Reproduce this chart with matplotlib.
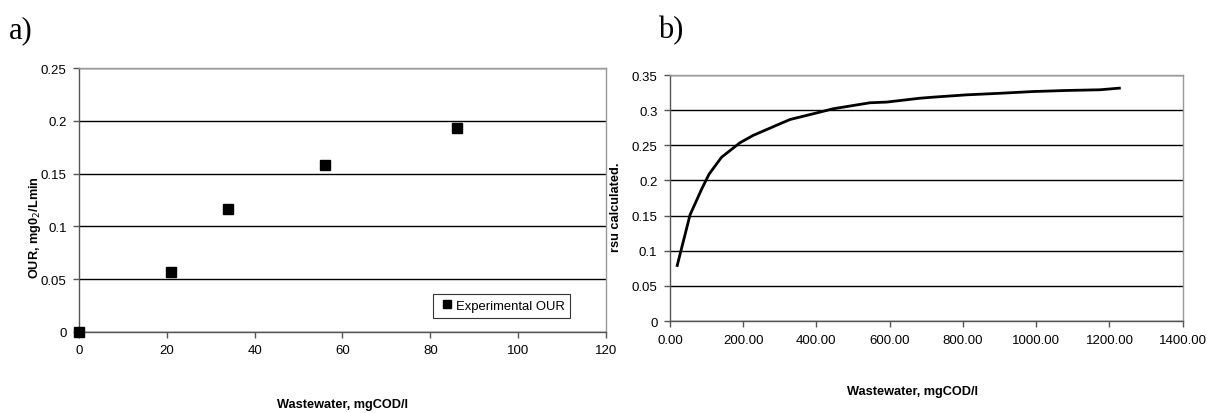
import matplotlib
matplotlib.use('Agg')
import matplotlib.pyplot as plt

# a) experimental oxygen uptake rate
ww_exp = [0, 21, 34, 56, 86]
our_exp = [0.0, 0.057, 0.116, 0.158, 0.193]

# b) calculated rsu curve
ww_calc = [20, 55, 87, 107, 141, 191, 227, 300, 328, 391, 446, 546, 592, 683,
           719, 810, 901, 992, 1083, 1174, 1227]
rsu_calc = [0.079, 0.151, 0.188, 0.209, 0.233, 0.2535, 0.264, 0.2805, 0.2867,
            0.2948, 0.302, 0.3105, 0.3115, 0.317, 0.3185, 0.3218, 0.324,
            0.3265, 0.328, 0.329, 0.3313]

a_xticks = [0, 20, 40, 60, 80, 100, 120]
a_yticks = [0, 0.05, 0.1, 0.15, 0.2, 0.25]
a_ylabels = ['0', '0.05', '0.1', '0.15', '0.2', '0.25']
b_xticks = [0, 200, 400, 600, 800, 1000, 1200, 1400]
b_yticks = [0, 0.05, 0.1, 0.15, 0.2, 0.25, 0.3, 0.35]
b_ylabels = ['0', '0.05', '0.1', '0.15', '0.2', '0.25', '0.3', '0.35']

plt.rcParams['font.family'] = ['Liberation Sans', 'DejaVu Sans']

fig = plt.figure(figsize=(12.07, 4.14), dpi=100)
ax1 = fig.add_axes([0.0655, 0.1957, 0.4365, 0.6376])
ax2 = fig.add_axes([0.555, 0.2222, 0.4249, 0.5942])


def style(ax, xticks, yticks, ylabels):
    ax.set_yticks(yticks)
    ax.set_yticklabels(ylabels)
    ax.set_xticks(xticks)
    ax.set_xlim(xticks[0], xticks[-1])
    ax.set_ylim(yticks[0], yticks[-1])
    ax.grid(axis='y', color='black', linewidth=1.0)
    ax.set_axisbelow(True)
    for s in ['left', 'bottom']:
        ax.spines[s].set_color('#555555')
        ax.spines[s].set_linewidth(1.0)
    for s in ['top', 'right']:
        ax.spines[s].set_color('#999999')
        ax.spines[s].set_linewidth(1.0)
    ax.tick_params(direction='out', length=4, width=1, color='#555555',
                   labelsize=9.5, pad=5)


style(ax1, a_xticks, a_yticks, a_ylabels)
ax1.plot(ww_exp, our_exp, 's', color='black', ms=7.5, clip_on=False, zorder=5,
         label='Experimental OUR')
leg = ax1.legend(loc='lower right', bbox_to_anchor=(0.945, 0.03), fontsize=9.4,
                 frameon=True, fancybox=False, edgecolor='black',
                 handletextpad=0.1, borderpad=0.45, handlelength=1.2,
                 markerscale=0.8)
leg.get_frame().set_linewidth(0.8)

style(ax2, b_xticks, b_yticks, b_ylabels)
ax2.set_xticklabels(['%.2f' % v for v in b_xticks])
ax2.plot(ww_calc, rsu_calc, '-', color='black', linewidth=2)

fig.text(0.284, 0.022, 'Wastewater, mgCOD/l', fontsize=9.2, fontweight='bold',
         ha='center', va='center')
fig.text(0.756, 0.053, 'Wastewater, mgCOD/l', fontsize=9.2, fontweight='bold',
         ha='center', va='center')
fig.text(0.029, 0.45, 'OUR, mg0$_2$/Lmin', fontsize=9.2, fontweight='bold',
         rotation=90, ha='center', va='center')
fig.text(0.510, 0.50, 'rsu calculated.', fontsize=9.2, fontweight='bold',
         rotation=90, ha='center', va='center')

fig.text(0.007, 0.925, 'a)', fontsize=22, family='Liberation Serif',
         ha='left', va='center')
fig.text(0.545, 0.925, 'b)', fontsize=22, family='Liberation Serif',
         ha='left', va='center')

fig.savefig('out.png', dpi=100)
